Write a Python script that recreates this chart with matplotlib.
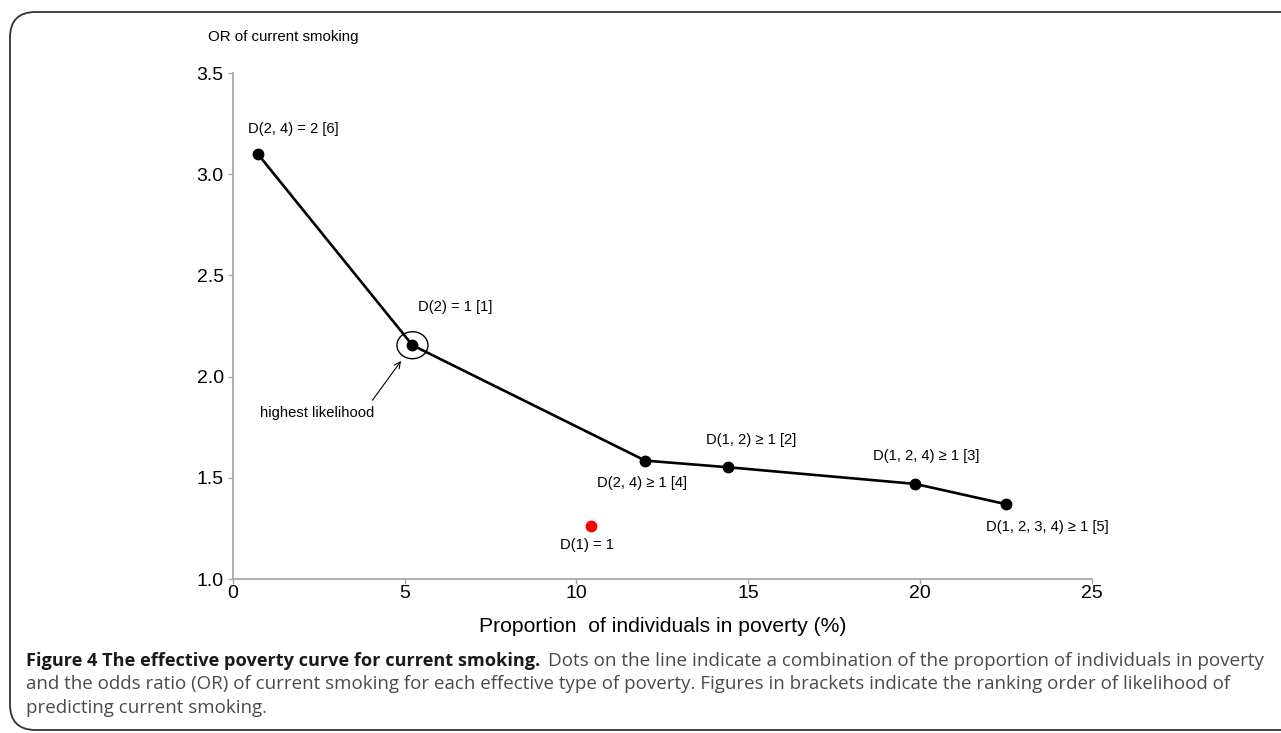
import matplotlib
matplotlib.use("Agg")
import matplotlib.pyplot as plt
from matplotlib.patches import Ellipse, FancyBboxPatch

# ---- data ----
curve_x = [0.73, 5.23, 12.0, 14.42, 19.85, 22.49]
curve_y = [3.10, 2.155, 1.585, 1.552, 1.47, 1.37]
curve_labels = ["D(2, 4) = 2 [6]", "D(2) = 1 [1]", "D(2, 4) \u2265 1 [4]",
                "D(1, 2) \u2265 1 [2]", "D(1, 2, 4) \u2265 1 [3]", "D(1, 2, 3, 4) \u2265 1 [5]"]
red_x = [10.42]
red_y = [1.26]
red_labels = ["D(1) = 1"]
x_ticks = [0, 5, 10, 15, 20, 25]
y_ticks = [1.0, 1.5, 2.0, 2.5, 3.0, 3.5]

W, H = 1281, 733
fig = plt.figure(figsize=(W / 100, H / 100), dpi=100)
chart_font = ["Liberation Sans", "DejaVu Sans"]
ann_size = 10.6

ax = fig.add_axes([232.7 / W, 1 - 579 / H, (1092 - 232.7) / W, (579 - 73) / H])
ax.set_xlim(0, 25)
ax.set_ylim(1.0, 3.5)
ax.plot(curve_x, curve_y, color="black", lw=1.9, marker="o", ms=7.5, zorder=3)
ax.plot(red_x, red_y, ls="none", marker="o", ms=7.5, color="#ff0000", zorder=3)

for s in ["top", "right"]:
    ax.spines[s].set_visible(False)
for s in ["left", "bottom"]:
    ax.spines[s].set_color("#a8a8a8")
    ax.spines[s].set_linewidth(1.3)
ax.set_xticks(x_ticks)
ax.set_yticks(y_ticks)
ax.set_xticklabels([str(t) for t in x_ticks], fontfamily=chart_font, fontsize=14)
ax.set_yticklabels([f"{t:.1f}" for t in y_ticks], fontfamily=chart_font, fontsize=14)
ax.tick_params(axis="both", colors="#a8a8a8", length=3.5, width=1, labelcolor="black")
ax.tick_params(axis="x", pad=1)
ax.tick_params(axis="y", pad=3)
ax.set_xlabel("Proportion  of individuals in poverty (%)", fontfamily=chart_font,
              fontsize=15.2, va="center")
ax.xaxis.set_label_coords(0.5, -(626 - 579) / (579 - 73))
fig.text(208 / W, 1 - 37 / H, "OR of current smoking", fontfamily=chart_font,
         fontsize=10.8, va="center", ha="left")

# annotations: (dx, dy) offsets in pixels, ha
offsets = [(-10, 25, "left"), (6, 38, "left"), (-3, -22, "center"),
           (23, 27, "center"), (11, 28, "center"), (42, -23, "center")]
for x, y, lab, (dx, dy, ha) in zip(curve_x, curve_y, curve_labels, offsets):
    ax.annotate(lab, (x, y), xytext=(dx, dy), textcoords="offset pixels",
                ha=ha, va="center", fontsize=ann_size, fontfamily=chart_font)
for x, y, lab in zip(red_x, red_y, red_labels):
    ax.annotate(lab, (x, y), xytext=(-4, -19), textcoords="offset pixels",
                ha="center", va="center", fontsize=ann_size, fontfamily=chart_font)

# highlight circle around best point
hx, hy = curve_x[1], curve_y[1]
ax.add_patch(Ellipse((hx, hy), width=31 / 34.37, height=27 / 202.4,
                     fill=False, ec="black", lw=1.0, zorder=4))
ax.annotate("highest likelihood", xy=(hx, hy), xytext=(-152, -68),
            textcoords="offset pixels", ha="left", va="center", fontsize=ann_size,
            fontfamily=chart_font)
ax.annotate("", xy=(hx, hy), xytext=(-40, -55), textcoords="offset pixels",
            arrowprops=dict(arrowstyle="->", lw=0.8, color="black",
                            shrinkA=0, shrinkB=14, mutation_scale=11))

# rounded frame
frame = FancyBboxPatch((10 / W, 3 / H), 1.2, 1 - 15 / H,
                       boxstyle="round,pad=0,rounding_size=0.02",
                       transform=fig.transFigure, fill=False, ec="#333333", lw=1.3,
                       mutation_aspect=W / H)
fig.patches.append(frame)

# caption
cap_font = ["Open Sans", "DejaVu Sans"]
reg_color = "#4a4a4a"
fig.text(26 / W, 1 - 661 / H, "Figure 4 The effective poverty curve for current smoking.",
         fontfamily=cap_font, fontsize=13.1, fontweight="bold", color="#1a1a1a",
         va="center", ha="left")
fig.text(548 / W, 1 - 661 / H,
         "Dots on the line indicate a combination of the proportion of individuals in poverty",
         fontfamily=cap_font, fontsize=13.6, color=reg_color, va="center", ha="left")
fig.text(26 / W, 1 - 684 / H,
         "and the odds ratio (OR) of current smoking for each effective type of poverty. "
         "Figures in brackets indicate the ranking order of likelihood of",
         fontfamily=cap_font, fontsize=13.5, color=reg_color, va="center", ha="left")
fig.text(26 / W, 1 - 708 / H, "predicting current smoking.",
         fontfamily=cap_font, fontsize=13.5, color=reg_color, va="center", ha="left")

fig.savefig("out.png", dpi=100)
